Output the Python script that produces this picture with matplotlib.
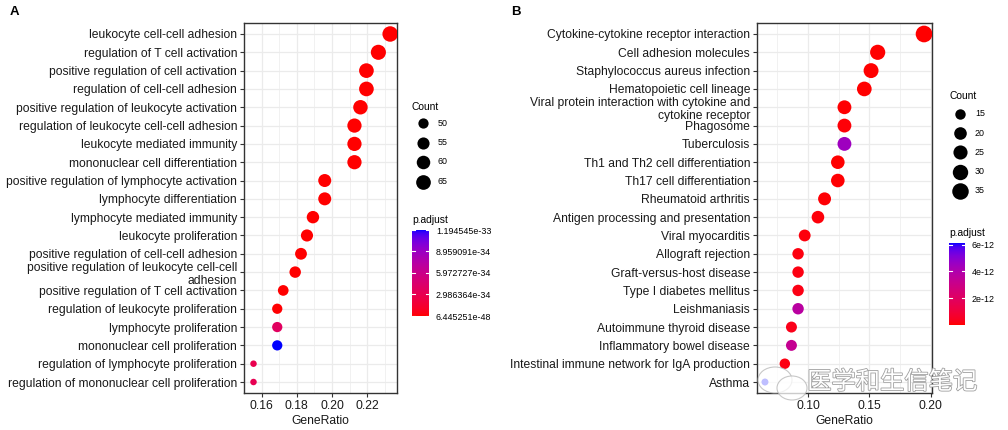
import numpy as np
import matplotlib
matplotlib.use("Agg")
import matplotlib.pyplot as plt
import matplotlib.patheffects as pe
from matplotlib.colors import ListedColormap, Normalize
from matplotlib.cm import ScalarMappable
from matplotlib.patches import Ellipse

plt.rcParams["font.family"] = ["Liberation Sans", "DejaVu Sans"]

W, H, DPI = 1008, 430, 100

# ---- panel A: GO enrichment ----
go_terms = [
    "leukocyte cell-cell adhesion",
    "regulation of T cell activation",
    "positive regulation of cell activation",
    "regulation of cell-cell adhesion",
    "positive regulation of leukocyte activation",
    "regulation of leukocyte cell-cell adhesion",
    "leukocyte mediated immunity",
    "mononuclear cell differentiation",
    "positive regulation of lymphocyte activation",
    "lymphocyte differentiation",
    "lymphocyte mediated immunity",
    "leukocyte proliferation",
    "positive regulation of cell-cell adhesion",
    "positive regulation of leukocyte cell-cell\nadhesion",
    "positive regulation of T cell activation",
    "regulation of leukocyte proliferation",
    "lymphocyte proliferation",
    "mononuclear cell proliferation",
    "regulation of lymphocyte proliferation",
    "regulation of mononuclear cell proliferation",
]
go_ratio = [0.2331, 0.2264, 0.2196, 0.2196, 0.2162, 0.2128, 0.2128, 0.2128,
            0.1959, 0.1959, 0.1892, 0.1858, 0.1824, 0.1791, 0.1723, 0.1689,
            0.1689, 0.1689, 0.1554, 0.1554]
go_count = [69, 67, 65, 65, 64, 63, 63, 63, 58, 58, 56, 55, 54, 53, 51, 50,
            50, 50, 46, 46]
go_padj = [6.445251e-48, 1.2e-45, 3.1e-44, 2.5e-43, 8.9e-43, 2.2e-41, 5.6e-41,
           1.3e-40, 4.4e-40, 2.1e-39, 6.3e-38, 1.8e-37, 4.2e-37, 9.5e-37,
           2.7e-36, 5.0e-36, 3.8e-34, 1.194545e-33, 2.9e-34, 3.1e-34]
go_count_breaks = [50, 55, 60, 65]
go_padj_breaks = [6.445251e-48, 2.986364e-34, 5.972727e-34, 8.959091e-34,
                  1.194545e-33]
go_padj_labels = ["6.445251e-48", "2.986364e-34", "5.972727e-34",
                  "8.959091e-34", "1.194545e-33"]
go_xticks = [0.16, 0.18, 0.20, 0.22]
go_xminor = [0.15, 0.17, 0.19, 0.21, 0.23]

# ---- panel B: KEGG enrichment ----
kegg_terms = [
    "Cytokine-cytokine receptor interaction",
    "Cell adhesion molecules",
    "Staphylococcus aureus infection",
    "Hematopoietic cell lineage",
    "Viral protein interaction with cytokine and\ncytokine receptor",
    "Phagosome",
    "Tuberculosis",
    "Th1 and Th2 cell differentiation",
    "Th17 cell differentiation",
    "Rheumatoid arthritis",
    "Antigen processing and presentation",
    "Viral myocarditis",
    "Allograft rejection",
    "Graft-versus-host disease",
    "Type I diabetes mellitus",
    "Leishmaniasis",
    "Autoimmune thyroid disease",
    "Inflammatory bowel disease",
    "Intestinal immune network for IgA production",
    "Asthma",
]
kegg_ratio = [0.1946, 0.1568, 0.1514, 0.1459, 0.1297, 0.1297, 0.1297, 0.1243,
              0.1243, 0.1135, 0.1081, 0.0973, 0.0919, 0.0919, 0.0919, 0.0919,
              0.0865, 0.0865, 0.0811, 0.0649]
kegg_count = [36, 29, 28, 27, 24, 24, 24, 23, 23, 21, 20, 18, 17, 17, 17, 17,
              16, 16, 15, 12]
kegg_padj = [1e-16, 2e-15, 5e-15, 1e-14, 3e-14, 8e-14, 4.5e-12, 1.5e-14,
             2.5e-14, 6e-14, 1.1e-13, 1.3e-13, 1.5e-13, 1.8e-13, 2.2e-13,
             3.7e-12, 2.9e-13, 3.3e-12, 1.9e-13, 6.13e-12]
kegg_count_breaks = [15, 20, 25, 30, 35]
kegg_padj_breaks = [2e-12, 4e-12, 6e-12]
kegg_padj_labels = ["2e-12", "4e-12", "6e-12"]
kegg_xticks = [0.10, 0.15, 0.20]
kegg_xminor = [0.075, 0.125, 0.175]


# red -> blue gradient interpolated in CIELAB, like ggplot's scale_colour_gradient
_M = np.array([[0.4124, 0.3576, 0.1805],
               [0.2126, 0.7152, 0.0722],
               [0.0193, 0.1192, 0.9505]])
_WHITE = np.array([0.95047, 1.0, 1.08883])


def srgb_to_lab(c):
    c = np.asarray(c, float)
    lin = np.where(c <= 0.04045, c / 12.92, ((c + 0.055) / 1.055) ** 2.4)
    xyz = _M @ lin / _WHITE
    f = np.where(xyz > (6 / 29) ** 3, np.cbrt(xyz),
                 xyz / (3 * (6 / 29) ** 2) + 4 / 29)
    return np.array([116 * f[1] - 16, 500 * (f[0] - f[1]), 200 * (f[1] - f[2])])


def lab_to_srgb(lab):
    L, a, b = lab
    fy = (L + 16) / 116
    f = np.array([fy + a / 500, fy, fy - b / 200])
    xyz = np.where(f > 6 / 29, f ** 3, 3 * (6 / 29) ** 2 * (f - 4 / 29)) * _WHITE
    lin = np.clip(np.linalg.solve(_M, xyz), 0, 1)
    c = np.where(lin <= 0.0031308, 12.92 * lin, 1.055 * lin ** (1 / 2.4) - 0.055)
    return np.clip(c, 0, 1)


lab_lo, lab_hi = srgb_to_lab([1, 0, 0]), srgb_to_lab([0, 0, 1])
cmap = ListedColormap([lab_to_srgb(lab_lo + t * (lab_hi - lab_lo))
                       for t in np.linspace(0, 1, 256)])


def dot_px(count, cmin, cmax, d0, d1):
    # area-type size scale (scales::area_pal)
    return d0 + (d1 - d0) * np.sqrt((np.asarray(count) - cmin) / (cmax - cmin))


def s_of(px):
    return (px * 72 / DPI) ** 2


def px_box(l, t, r, b):
    return [l / W, 1 - b / H, (r - l) / W, (b - t) / H]


def dot_panel(ax, terms, ratio, count, padj, norm, d0, d1, xticks, xminor):
    n = len(terms)
    y = np.arange(n)[::-1]
    ratio = np.asarray(ratio)
    cmin, cmax = min(count), max(count)
    ax.scatter(ratio, y, s=s_of(dot_px(count, cmin, cmax, d0, d1)),
               c=padj, cmap=cmap, norm=norm, linewidths=0, zorder=3)
    lo, hi = ratio.min(), ratio.max()
    pad = 0.05 * (hi - lo)
    ax.set_xlim(lo - pad, hi + pad)
    ax.set_ylim(-0.6, n - 0.4)
    ax.set_yticks(y)
    ax.set_yticklabels(terms, fontsize=8.75, color="#1a1a1a",
                       multialignment="right", linespacing=1.12)
    ax.set_xticks(xticks)
    ax.set_xticklabels([f"{v:.2f}" for v in xticks], fontsize=8.75,
                       color="#1a1a1a")
    ax.set_xticks(xminor, minor=True)
    ax.tick_params(which="major", length=3, width=0.8, color="#333333", pad=2)
    ax.tick_params(which="minor", length=0)
    ax.grid(which="major", color="#ebebeb", lw=0.9, zorder=0)
    ax.grid(which="minor", axis="x", color="#ebebeb", lw=0.5, zorder=0)
    ax.set_axisbelow(True)
    for sp in ax.spines.values():
        sp.set_color("#333333")
        sp.set_linewidth(1.0)
    ax.set_xlabel("GeneRatio", fontsize=8.75, color="#1a1a1a", labelpad=2)
    return cmin, cmax


def legends(fig, ov, x0, y_title, key_y0, key_step, breaks, cmin, cmax, d0, d1,
            norm, bar_box, cb_ticks, cb_labels, cb_title_y):
    ov.text(x0, y_title, "Count", fontsize=7.4, va="center", ha="left")
    for k, c in enumerate(breaks):
        d = dot_px(c, cmin, cmax, d0, d1)
        yy = key_y0 + k * key_step
        ov.scatter([x0 + 11], [yy], s=s_of(d), color="black", linewidths=0)
        ov.text(x0 + 26, yy, str(c), fontsize=6.4, va="center", ha="left")
    ov.text(x0, cb_title_y, "p.adjust", fontsize=7.4, va="center", ha="left")
    cax = fig.add_axes(px_box(*bar_box))
    cb = fig.colorbar(ScalarMappable(norm=norm, cmap=cmap), cax=cax)
    cb.outline.set_visible(False)
    cb.set_ticks(cb_ticks)
    cb.set_ticklabels(cb_labels)
    cax.tick_params(length=0, labelsize=6.4, pad=5)
    for v in cb_ticks:
        cax.axhline(v, xmin=0, xmax=0.2, color="white", lw=0.8)
        cax.axhline(v, xmin=0.8, xmax=1, color="white", lw=0.8)


fig = plt.figure(figsize=(W / DPI, H / DPI), dpi=DPI)

norm_a = Normalize(vmin=min(go_padj), vmax=max(go_padj))
norm_b = Normalize(vmin=min(kegg_padj), vmax=max(kegg_padj))

ax_a = fig.add_axes(px_box(244, 23, 397, 393))
ca = dot_panel(ax_a, go_terms, go_ratio, go_count, go_padj, norm_a,
               6.5, 15.5, go_xticks, go_xminor)
ax_b = fig.add_axes(px_box(757, 23, 932, 393))
cb_ = dot_panel(ax_b, kegg_terms, kegg_ratio, kegg_count, kegg_padj, norm_b,
                7.0, 16.7, kegg_xticks, kegg_xminor)

ov = fig.add_axes([0, 0, 1, 1], zorder=-1)
ov.set_xlim(0, W)
ov.set_ylim(H, 0)
ov.axis("off")

legends(fig, ov, 412, 107, 123, 19.5, go_count_breaks, *ca, 6.5, 15.5, norm_a,
        (412, 230, 429, 316), go_padj_breaks, go_padj_labels, 220)
legends(fig, ov, 949, 96, 114, 19.2, kegg_count_breaks, *cb_, 7.0, 16.7, norm_b,
        (949, 243, 965, 325), kegg_padj_breaks, kegg_padj_labels, 233)

fig.text(10 / W, 1 - 12 / H, "A", fontsize=9.5, fontweight="bold",
         va="center", ha="left")
fig.text(511 / W, 1 - 12 / H, "B", fontsize=9.5, fontweight="bold",
         va="center", ha="left")

# watermark overlaying the lower right of panel B
top = fig.add_axes([0, 0, 1, 1], zorder=10)
top.set_xlim(0, W)
top.set_ylim(H, 0)
top.axis("off")
top.add_patch(Ellipse((775, 380), 34, 26, facecolor="white", alpha=0.75,
                      edgecolor="#b5b5b5", lw=0.8))
top.add_patch(Ellipse((792, 388), 30, 24, facecolor="white", alpha=0.75,
                      edgecolor="#b5b5b5", lw=0.8))
top.text(892, 382, "医学和生信笔记", fontsize=17.5, ha="center", va="center",
         color="white", family=["Noto Sans CJK SC", "DejaVu Sans"],
         path_effects=[pe.withStroke(linewidth=1.2, foreground="#a0a0a0")])

fig.savefig("out.png", dpi=DPI)
